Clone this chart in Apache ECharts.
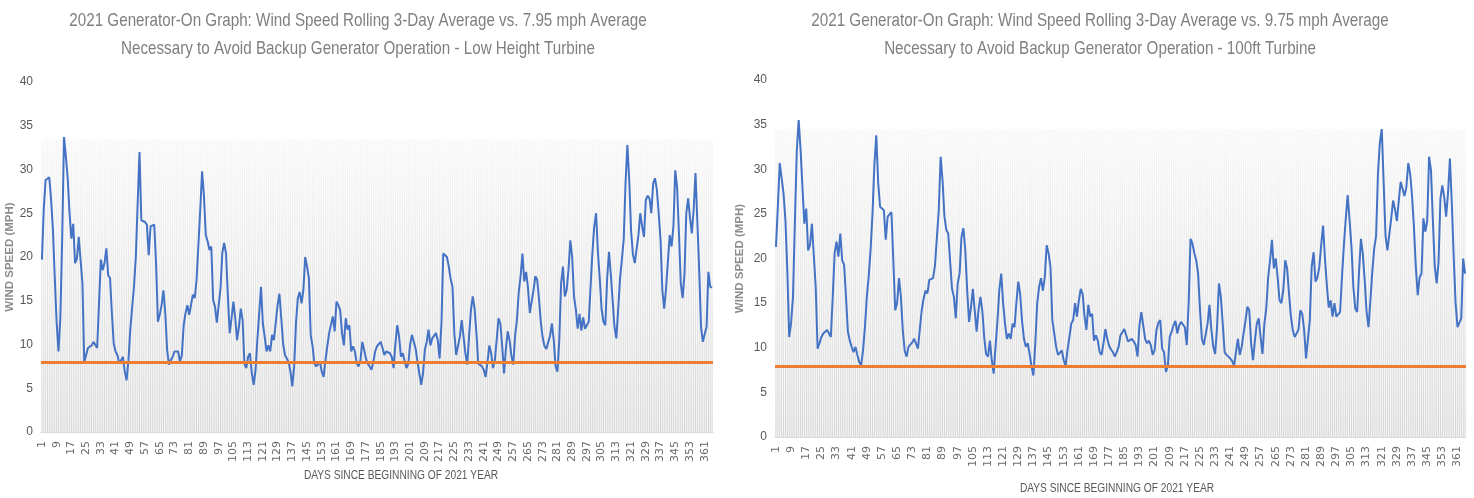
<!DOCTYPE html>
<html>
<head>
<meta charset="utf-8">
<script src="https://cdn.jsdelivr.net/npm/echarts@6/dist/echarts.min.js"></script>
<style>
  html, body { margin: 0; padding: 0; background: #fff; }
  #chart { width: 1474px; height: 498px; }
</style>
</head>
<body>
<div id="chart"></div>
<script>
// day numbers 1..365 (category axis)
var days = []
for (var d = 1; d <= 365; d++) days.push(String(d))

var yTicks = [0, 5, 10, 15, 20, 25, 30, 35, 40]

// threshold lines, as drawn in the picture
var thresholdLow = 7.95
var thresholdTall = 7.95

// height of the grey background columns
var columnTopLow = 33.5
var columnTopTall = 34.5

// rolling 3-day average, low height turbine (mph)
var lowHeight = [
  19.7, 25.5, 28.8, 29.0, 29.1, 26.5, 23.0, 17.5, 12.5, 9.2,
  13.0, 22.0, 33.7, 31.5, 29.0, 25.0, 22.1, 23.8, 19.3, 19.8,
  22.3, 22.3, 17.0, 8.0, 8.2, 9.6, 9.8, 9.9, 10.3, 10.5,
  9.6, 14.7, 19.7, 18.5, 19.3, 21.0, 17.9, 17.6, 13.6, 10.1,
  9.2, 8.8, 7.85, 8.2, 8.6, 6.9, 5.9, 8.2, 11.7, 14.2,
  16.6, 20.0, 26.1, 32.0, 24.2, 24.0, 24.0, 23.7, 20.2, 23.5,
  23.5, 23.7, 19.3, 12.6, 13.4, 14.5, 16.2, 13.6, 9.4, 7.7,
  8.2, 8.6, 9.2, 9.2, 9.2, 8.0, 8.8, 12.2, 13.6, 14.5,
  13.4, 13.2, 15.7, 15.3, 17.4, 17.6, 25.4, 29.8, 27.0, 22.5,
  21.8, 20.8, 21.2, 15.1, 14.3, 12.5, 14.5, 16.4, 20.5, 21.6,
  20.4, 15.5, 11.3, 13.0, 14.9, 13.0, 10.5, 12.0, 14.1, 12.8,
  7.8, 7.3, 8.6, 9.0, 6.7, 5.4, 7.0, 10.5, 13.5, 16.6,
  12.4, 10.9, 9.2, 9.9, 9.2, 11.1, 10.5, 12.5, 14.5, 15.8,
  13.0, 10.1, 8.8, 9.0, 8.0, 6.9, 5.2, 7.5, 12.5, 15.3,
  16.0, 14.7, 16.2, 20.0, 18.9, 17.6, 11.1, 9.8, 7.8, 7.5,
  7.5, 8.0, 6.9, 6.3, 8.2, 9.8, 11.3, 11.5, 13.2, 11.5,
  14.9, 14.5, 13.9, 11.3, 9.9, 13.0, 11.7, 12.2, 9.2, 9.8,
  9.2, 7.8, 7.5, 8.2, 10.3, 9.4, 8.4, 7.8, 7.5, 7.1,
  8.0, 9.2, 9.8, 9.9, 10.3, 9.6, 8.8, 9.2, 9.2, 9.0,
  8.6, 7.3, 10.1, 12.2, 10.9, 8.6, 9.0, 8.9, 7.3, 7.8,
  10.0, 11.1, 11.2, 9.5, 8.0, 7.8, 5.4, 6.7, 9.4, 10.3,
  11.7, 9.9, 10.7, 10.9, 11.3, 10.5, 8.4, 12.4, 20.4, 20.2,
  20.0, 18.9, 17.5, 16.6, 11.3, 8.8, 8.8, 10.9, 12.8, 10.9,
  9.0, 7.7, 10.9, 13.9, 15.5, 14.1, 11.3, 7.8, 7.7, 7.5,
  7.1, 6.3, 8.0, 9.9, 9.0, 7.3, 8.2, 10.5, 13.0, 12.4,
  9.8, 6.7, 9.5, 11.5, 10.5, 8.7, 7.7, 11.0, 12.8, 16.0,
  17.8, 20.4, 17.2, 18.3, 16.5, 13.6, 13.4, 16.2, 17.8, 17.4,
  15.2, 12.5, 10.8, 9.8, 9.5, 9.6, 11.0, 12.4, 10.5, 7.5,
  6.9, 10.5, 17.0, 18.9, 15.5, 16.2, 18.5, 21.9, 20.0, 15.5,
  14.0, 11.8, 13.5, 11.6, 13.1, 11.8, 11.8, 12.6, 16.6, 20.5,
  23.5, 25.0, 20.5, 17.5, 14.0, 12.6, 12.2, 17.5, 20.6, 18.0,
  15.0, 12.0, 10.7, 14.0, 17.5, 19.7, 22.0, 28.5, 32.8, 28.8,
  23.0, 20.3, 19.3, 19.5, 22.5, 25.0, 23.5, 22.3, 26.5, 27.0,
  26.7, 25.0, 28.4, 29.0, 27.7, 25.0, 22.0, 16.2, 14.1, 16.4,
  19.5, 22.5, 21.2, 23.5, 29.9, 28.0, 22.7, 17.0, 15.3, 18.0,
  25.0, 26.7, 24.5, 22.7, 25.4, 29.6, 24.0, 18.5, 12.0, 10.3,
  11.2, 12.0, 18.3, 16.6, 16.5
]

// rolling 3-day average, 100ft turbine (mph)
var tall100ft = [
  21.3, 25.8, 30.7, 30.8, 27.3, 24.3, 18.7, 11.2, 12.8, 15.7,
  24.0, 32.0, 35.5, 32.2, 28.0, 23.9, 25.6, 20.9, 21.5, 23.9,
  23.9, 16.8, 9.9, 10.5, 11.2, 11.6, 11.8, 12.0, 12.1, 11.2,
  15.7, 20.6, 21.9, 20.2, 22.8, 19.8, 19.3, 15.7, 11.8, 10.8,
  10.1, 9.5, 10.1, 9.2, 8.4, 8.0, 9.7, 12.3, 15.7, 18.0,
  21.0, 25.0, 30.5, 33.8, 28.5, 25.8, 25.8, 25.4, 22.1, 24.7,
  24.9, 25.2, 19.8, 14.2, 15.0, 17.8, 15.7, 12.0, 9.7, 9.0,
  10.1, 10.3, 10.6, 11.0, 11.0, 9.9, 10.1, 14.2, 15.5, 16.4,
  16.1, 17.6, 17.6, 17.8, 19.2, 19.4, 25.4, 31.4, 28.8, 24.7,
  23.2, 22.8, 22.8, 16.6, 15.7, 13.3, 17.2, 18.3, 22.4, 23.4,
  21.0, 16.5, 12.9, 14.5, 16.6, 14.2, 11.8, 14.2, 15.7, 14.2,
  11.2, 9.3, 9.0, 10.8, 8.6, 7.1, 10.1, 13.0, 16.5, 18.3,
  15.0, 12.7, 11.0, 11.6, 11.0, 12.7, 12.3, 15.0, 17.4, 16.0,
  13.0, 11.0, 10.1, 10.5, 9.3, 7.9, 6.9, 10.5, 15.0, 16.8,
  17.8, 16.4, 17.9, 21.5, 20.6, 19.1, 13.1, 11.6, 10.1, 9.2,
  9.2, 9.7, 8.6, 8.0, 9.7, 11.2, 12.7, 13.1, 15.0, 13.5,
  15.3, 16.6, 16.0, 13.5, 12.0, 14.8, 13.5, 13.8, 10.8, 11.4,
  10.8, 9.5, 9.2, 10.5, 12.1, 11.0, 10.2, 9.8, 9.5, 9.0,
  9.5, 10.1, 11.4, 11.4, 12.1, 11.4, 10.7, 10.7, 11.0, 10.7,
  10.3, 9.0, 12.5, 14.0, 12.5, 11.0, 10.5, 10.8, 10.3, 9.2,
  9.7, 12.0, 12.8, 13.1, 9.9, 9.5, 7.3, 8.0, 11.2, 11.8,
  12.5, 13.0, 11.6, 12.5, 12.9, 13.1, 12.3, 10.3, 15.0, 22.2,
  21.7, 20.6, 19.8, 18.3, 14.2, 11.0, 10.3, 10.5, 12.7, 14.8,
  12.0, 10.1, 9.3, 12.3, 17.2, 15.7, 12.7, 9.5, 9.2, 9.0,
  8.8, 8.5, 8.0, 9.5, 11.0, 9.2, 10.1, 11.6, 13.0, 14.6,
  14.2, 10.5, 8.6, 10.8, 12.7, 13.3, 11.2, 9.3, 12.7, 14.4,
  17.9, 19.8, 22.1, 18.9, 20.0, 17.9, 15.3, 15.0, 16.5, 19.8,
  18.9, 16.1, 13.5, 12.0, 11.2, 11.2, 12.0, 14.2, 13.8, 12.0,
  8.8, 8.6, 13.1, 19.1, 20.7, 17.4, 17.9, 19.0, 21.5, 23.7,
  20.0, 17.0, 14.5, 15.3, 13.5, 15.0, 13.5, 13.5, 14.0, 18.0,
  21.5, 24.5, 27.1, 24.3, 21.3, 16.8, 14.4, 14.0, 18.5, 22.2,
  20.5, 17.5, 14.0, 12.3, 15.3, 18.5, 21.1, 22.5, 29.5, 33.0,
  34.5, 28.5, 22.5, 20.9, 21.0, 24.5, 26.5, 25.5, 24.2, 26.5,
  28.6, 28.5, 27.0, 28.0, 30.7, 29.5, 27.0, 23.5, 19.0, 15.9,
  17.9, 18.3, 24.5, 23.0, 24.2, 31.4, 29.9, 24.3, 19.1, 17.2,
  19.6, 26.7, 28.2, 26.9, 24.7, 27.3, 31.2, 26.2, 20.2, 15.0,
  12.3, 12.3, 13.3, 20.0, 18.3
]

var titleLow = '2021 Generator-On Graph: Wind Speed Rolling 3-Day Average vs. 7.95 mph Average\nNecessary to Avoid Backup Generator Operation - Low Height Turbine'
var titleTall = '2021 Generator-On Graph: Wind Speed Rolling 3-Day Average vs. 9.75 mph Average\nNecessary to Avoid Backup Generator Operation - 100ft Turbine'
var xName = 'DAYS SINCE BEGINNING OF 2021 YEAR'
var yName = 'WIND SPEED (MPH)'

var sans = "'Liberation Sans', sans-serif"

var chart = echarts.init(document.getElementById('chart'))

function columns(top) {
  return days.map(function () { return top })
}

function xAxisFor(grid) {
  return {
    type: 'category',
    gridIndex: grid,
    data: days,
    boundaryGap: true,
    axisTick: { show: false },
    axisLine: { show: true, lineStyle: { color: '#d9d9d9', width: 1 } },
    axisLabel: {
      interval: 7,
      rotate: 90,
      margin: 9,
      fontSize: 11,
      color: '#6b6b6b',
      fontFamily: 'DejaVu Sans'
    }
  }
}

function yAxisFor(grid, gap) {
  return {
    type: 'value',
    gridIndex: grid,
    min: yTicks[0],
    max: yTicks[yTicks.length - 1],
    interval: 5,
    splitLine: { show: false },
    axisLine: { show: false },
    axisTick: { show: false },
    axisLabel: { fontSize: 12, color: '#595959', margin: 8, fontFamily: sans },
    name: yName,
    nameLocation: 'middle',
    nameGap: gap,
    nameTextStyle: { fontSize: 11.5, fontWeight: 'bold', color: '#8c8c8c', fontFamily: sans }
  }
}

function greyColumns(idx, top) {
  return {
    type: 'bar',
    xAxisIndex: idx,
    yAxisIndex: idx,
    silent: true,
    data: columns(top),
    barCategoryGap: '38%',
    itemStyle: {
      color: new echarts.graphic.LinearGradient(0, 0, 0, 1, [
        { offset: 0, color: '#f7f7f7' },
        { offset: 1, color: '#d6d6d6' }
      ])
    },
    z: 1
  }
}

function windLine(idx, values, threshold) {
  return {
    type: 'line',
    xAxisIndex: idx,
    yAxisIndex: idx,
    data: values,
    symbol: 'none',
    lineStyle: { color: '#4472c4', width: 2 },
    itemStyle: { color: '#4472c4' },
    z: 3,
    markLine: {
      silent: true,
      symbol: ['none', 'none'],
      label: { show: false },
      lineStyle: { color: '#ed7d31', width: 3, type: 'solid' },
      data: [{ yAxis: threshold }]
    }
  }
}

// condensed text (squeezed horizontally, like the original narrow font)
function textBlock(x, y, text, size, color, lh, squeeze) {
  return {
    type: 'text',
    x: x,
    y: y,
    scaleX: squeeze,
    style: {
      text: text,
      textAlign: 'center',
      fill: color,
      fontSize: size,
      fontFamily: sans,
      lineHeight: lh
    }
  }
}

chart.setOption({
  backgroundColor: '#ffffff',
  animation: false,
  grid: [
    { left: 41, top: 82, width: 672, height: 350 },
    { left: 775, top: 80, width: 691, height: 357 }
  ],
  xAxis: [xAxisFor(0), xAxisFor(1)],
  yAxis: [yAxisFor(0, 25), yAxisFor(1, 29)],
  graphic: [
    textBlock(358, 7, titleLow, 19, '#7f7f7f', 28, 0.8),
    textBlock(1100, 7, titleTall, 19, '#7f7f7f', 28, 0.8),
    textBlock(401, 469, xName, 12, '#595959', 14, 0.85),
    textBlock(1117, 482, xName, 12, '#595959', 14, 0.85)
  ],
  series: [
    greyColumns(0, columnTopLow),
    windLine(0, lowHeight, thresholdLow),
    greyColumns(1, columnTopTall),
    windLine(1, tall100ft, thresholdTall)
  ]
})
</script>
</body>
</html>
